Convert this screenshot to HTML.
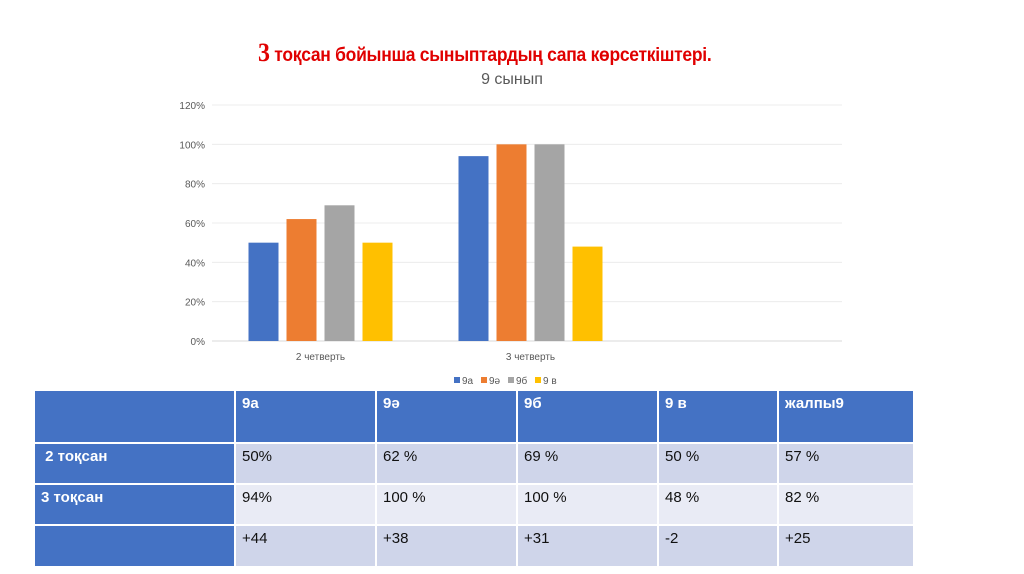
<!DOCTYPE html>
<html><head><meta charset="utf-8"><style>
body{margin:0;width:1024px;height:574px;background:#fff;font-family:"Liberation Sans",sans-serif;overflow:hidden;position:relative}
.title{position:absolute;left:258px;top:38px;font-size:19px;font-weight:bold;color:#e00000;font-family:"Liberation Sans",sans-serif;letter-spacing:-0.3px;transform:scaleX(0.92);transform-origin:left;white-space:nowrap}
.title b{font-family:"Liberation Serif",serif;font-size:26px}
table{position:absolute;left:33px;top:389px;border-collapse:separate;border-spacing:2px;font-size:15px}
td{padding:4px 6px;vertical-align:top;color:#111}
th{background:#4472c4;color:#fff;text-align:left;vertical-align:top;padding:4px 6px;font-weight:bold}
</style></head><body>
<div class="title"><b>3</b> тоқсан бойынша сыныптардың сапа көрсеткіштері.</div>
<svg id="chart" width="1024" height="390" style="position:absolute;left:0;top:0"></svg>
<table>
<tr style="height:51px"><th style="width:187px"></th><th style="width:127px">9а</th><th style="width:127px">9ә</th><th style="width:127px">9б</th><th style="width:106px">9 в</th><th style="width:122px">жалпы9</th></tr>
<tr style="height:39px;background:#cfd5ea"><th>&nbsp;2 тоқсан</th><td>50%</td><td>62 %</td><td>69 %</td><td>50 %</td><td>57 %</td></tr>
<tr style="height:39px;background:#e9ebf5"><th>3 тоқсан</th><td>94%</td><td>100 %</td><td>100 %</td><td>48 %</td><td>82 %</td></tr>
<tr style="height:40px;background:#cfd5ea"><th></th><td>+44</td><td>+38</td><td>+31</td><td>-2</td><td>+25</td></tr>
</table>
<script>
const categories=["2 четверть","3 четверть",""];
const seriesNames=["9а","9ә","9б","9 в"];
const s9a=[50,94,null];
const s9ae=[62,100,null];
const s9b=[69,100,null];
const s9v=[50,48,null];
const ticks=[0,20,40,60,80,100,120];
const colors=["#4472c4","#ed7d31","#a5a5a5","#ffc000"];
const svg=document.getElementById('chart');
const NS="http://www.w3.org/2000/svg";
const x0=212,x1=842,y0=341,y1=105;
const yS=v=>y0-(v/120)*(y0-y1);
const catW=(x1-x0)/categories.length;
function mk(t,a,txt){const e=document.createElementNS(NS,t);for(const k in a)e.setAttribute(k,a[k]);if(txt!==undefined)e.textContent=txt;svg.appendChild(e);return e;}
const st=mk('text',{x:512,y:84,'font-size':16,fill:'#595959','text-anchor':'middle'},'9 сынып');


ticks.forEach(t=>{
 const l=mk('line',{x1:x0,x2:x1,y1:yS(t),y2:yS(t),stroke:t===0?'#d9d9d9':'#ececec','stroke-width':1});
 
 
 const tx=mk('text',{x:205,y:yS(t)+4,'font-size':10,fill:'#595959','text-anchor':'end'},t+'%');
 
 
});
const all=[s9a,s9ae,s9b,s9v];
const bw=30,step=38;
categories.forEach((c,i)=>{
 const cx=x0+catW*(i+0.5)+3.5;
 all.forEach((s,j)=>{
  if(s[i]==null)return;
  const bx=cx-2*step+j*step+(step-bw)/2;
  const r=mk('rect',{x:bx,y:yS(s[i]),width:bw,height:y0-yS(s[i]),fill:colors[j]});
  
  
 });
 if(c){const t=mk('text',{x:cx,y:360,'font-size':10,fill:'#595959','text-anchor':'middle'},c);
 
 }
});
let lx=454;
seriesNames.forEach((n,j)=>{
 const r=mk('rect',{x:lx,y:377,width:6,height:6,fill:colors[j]});
 
 
 const t=mk('text',{x:lx+8,y:384,'font-size':10,fill:'#595959'},n);
 
 
 lx+=27;
});
</script>
</body></html>
